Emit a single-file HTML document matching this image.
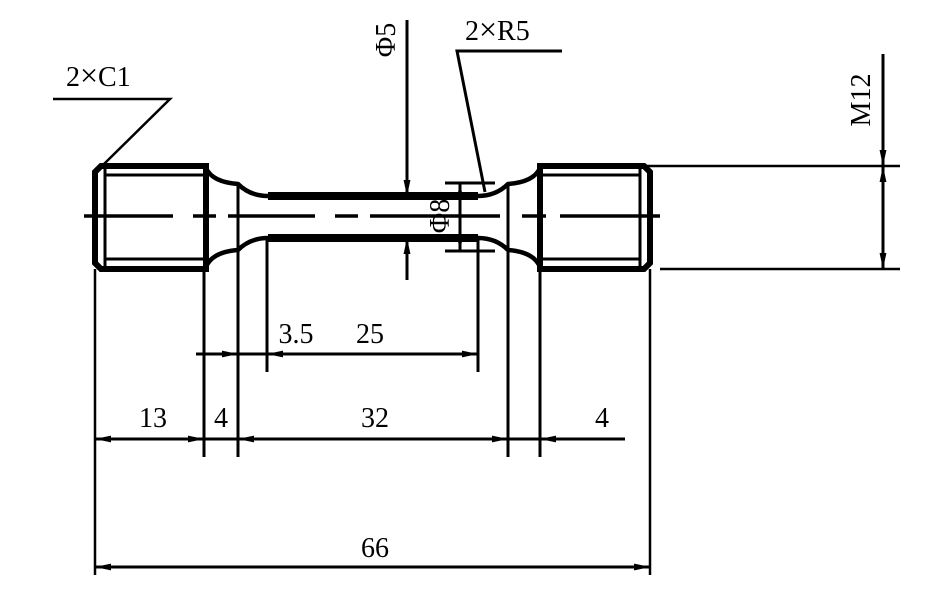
<!DOCTYPE html>
<html><head><meta charset="utf-8"><style>
html,body{margin:0;padding:0;background:#fff;}
svg{display:block;}
text{font-family:"Liberation Serif","Times New Roman","DejaVu Serif",serif;font-size:28px;fill:#000;}
</style></head><body>
<svg width="943" height="603" viewBox="0 0 943 603" xmlns="http://www.w3.org/2000/svg">
<defs>
<marker id="a" viewBox="0 0 14 6" refX="14" refY="3" markerWidth="16" markerHeight="7" markerUnits="userSpaceOnUse" orient="auto-start-reverse"><path d="M0,0 L14,3 L0,6 z" fill="#000"/></marker>
</defs>
<g stroke="#000" fill="none">
<path d="M95,172 L101,166 L206,166 L206,269 L101,269 L95,263 Z" stroke-width="6"/>
<line x1="105" y1="175" x2="206" y2="175" stroke-width="3"/>
<line x1="105" y1="259" x2="206" y2="259" stroke-width="3"/>
<line x1="105" y1="166" x2="105" y2="269" stroke-width="3"/>
<path d="M540,166 L644,166 L650,172 L650,263 L644,269 L540,269 Z" stroke-width="6"/>
<line x1="540" y1="175" x2="640" y2="175" stroke-width="3"/>
<line x1="540" y1="259" x2="640" y2="259" stroke-width="3"/>
<line x1="640" y1="166" x2="640" y2="269" stroke-width="3"/>
<path d="M206,168 Q212,182 238,184 Q250,196 268,196 L478,196 Q496,196 508,184 Q534,182 540,168" stroke-width="4.5"/>
<path d="M206,267 Q212,252 238,250 Q250,238 268,238 L478,238 Q496,238 508,250 Q534,252 540,267" stroke-width="4.5"/>
<line x1="238" y1="184" x2="238" y2="250" stroke-width="3"/>
<line x1="508" y1="184" x2="508" y2="250" stroke-width="3"/>
<line x1="268" y1="196" x2="478" y2="196" stroke-width="8"/>
<line x1="268" y1="238" x2="478" y2="238" stroke-width="8"/>
<path d="M84,216 H173 M193,216 H216 M228,216 H315 M335,216 H358 M370,216 H500 M522,216 H546 M560,216 H660" stroke-width="3.5"/>
<line x1="407" y1="20" x2="407" y2="196" stroke-width="3" marker-end="url(#a)"/>
<line x1="407" y1="280" x2="407" y2="238" stroke-width="3" marker-end="url(#a)"/>
<polyline points="562,51 457,51 485,192" stroke-width="3"/>
<polyline points="53,99 170,99 104,164" stroke-width="2.5"/>
<line x1="445" y1="183" x2="495" y2="183" stroke-width="3"/>
<line x1="445" y1="251" x2="495" y2="251" stroke-width="3"/>
<line x1="460" y1="183" x2="460" y2="251" stroke-width="3" marker-start="url(#a)" marker-end="url(#a)"/>
<line x1="645" y1="166" x2="900" y2="166" stroke-width="2.5"/>
<line x1="660" y1="269" x2="900" y2="269" stroke-width="2.5"/>
<line x1="883" y1="54" x2="883" y2="166" stroke-width="3" marker-end="url(#a)"/>
<line x1="883" y1="166" x2="883" y2="269" stroke-width="3" marker-start="url(#a)" marker-end="url(#a)"/>
<line x1="95" y1="269" x2="95" y2="575" stroke-width="2.5"/>
<line x1="650" y1="269" x2="650" y2="575" stroke-width="2.5"/>
<line x1="204" y1="269" x2="204" y2="457" stroke-width="3"/>
<line x1="238" y1="250" x2="238" y2="457" stroke-width="3"/>
<line x1="508" y1="250" x2="508" y2="457" stroke-width="3"/>
<line x1="540" y1="269" x2="540" y2="457" stroke-width="3"/>
<line x1="267" y1="240" x2="267" y2="372" stroke-width="3"/>
<line x1="478" y1="240" x2="478" y2="372" stroke-width="3"/>
<line x1="196" y1="354" x2="238" y2="354" stroke-width="3" marker-end="url(#a)"/>
<line x1="238" y1="354" x2="267" y2="354" stroke-width="3"/>
<line x1="267" y1="354" x2="478" y2="354" stroke-width="3" marker-start="url(#a)" marker-end="url(#a)"/>
<line x1="95" y1="439" x2="204" y2="439" stroke-width="3" marker-start="url(#a)" marker-end="url(#a)"/>
<line x1="204" y1="439" x2="238" y2="439" stroke-width="3"/>
<line x1="238" y1="439" x2="508" y2="439" stroke-width="3" marker-start="url(#a)" marker-end="url(#a)"/>
<line x1="508" y1="439" x2="540" y2="439" stroke-width="3"/>
<line x1="625" y1="439" x2="540" y2="439" stroke-width="3" marker-end="url(#a)"/>
<line x1="95" y1="567" x2="650" y2="567" stroke-width="3" marker-start="url(#a)" marker-end="url(#a)"/>
</g>
<text x="66" y="86" font-family="Liberation Serif, serif">2<tspan font-size="32">×</tspan>C1</text>
<text x="465" y="40" font-family="Liberation Serif, serif">2<tspan font-size="32">×</tspan>R5</text>
<text transform="translate(395,40) rotate(-90)" text-anchor="middle" font-family="Liberation Serif, serif">Φ5</text>
<text transform="translate(870,100) rotate(-90)" text-anchor="middle" font-family="Liberation Serif, serif">M12</text>
<text transform="translate(449,216) rotate(-90)" text-anchor="middle" font-family="Liberation Serif, serif" font-size="26">Φ8</text>
<text x="296" y="343" text-anchor="middle" font-family="Liberation Serif, serif">3.5</text>
<text x="370" y="343" text-anchor="middle" font-family="Liberation Serif, serif">25</text>
<text x="153" y="427" text-anchor="middle" font-family="Liberation Serif, serif">13</text>
<text x="221" y="427" text-anchor="middle" font-family="Liberation Serif, serif">4</text>
<text x="375" y="427" text-anchor="middle" font-family="Liberation Serif, serif">32</text>
<text x="602" y="427" text-anchor="middle" font-family="Liberation Serif, serif">4</text>
<text x="375" y="557" text-anchor="middle" font-family="Liberation Serif, serif">66</text>
</svg>
</body></html>
